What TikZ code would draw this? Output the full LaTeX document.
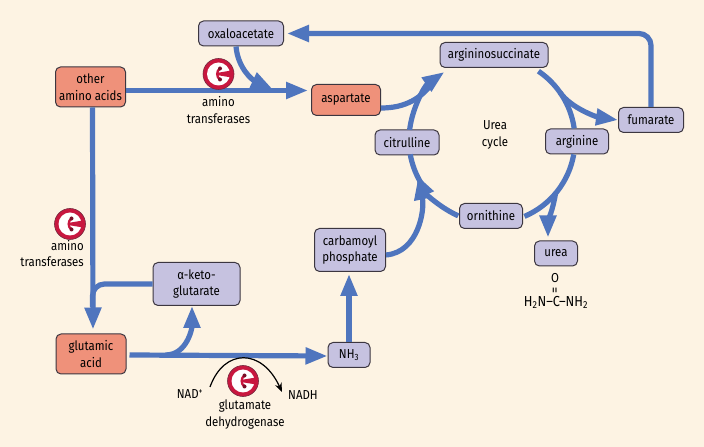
\documentclass[tikz,border=0pt]{standalone}
\usepackage{fontspec}
\setmainfont[FakeStretch=0.88]{Fira Sans}
\usetikzlibrary{arrows.meta,calc}
\definecolor{paper}{HTML}{FDF3E3}
\definecolor{flowblue}{HTML}{4F75BE}
\definecolor{lilac}{HTML}{C6C2E0}
\definecolor{salmon}{HTML}{EF917A}
\definecolor{edge}{HTML}{3C3640}
\definecolor{enzred}{HTML}{C8173F}

\begin{document}
\begin{tikzpicture}[
    x=1pt, y=1pt,
    metab/.style={draw=edge, line width=1pt, rounded corners=5pt, align=center, inner sep=0pt, font=\fontsize{13}{16.5}\selectfont},
    acid/.style={metab, fill=salmon},
    cpd/.style={metab, fill=lilac},
    flowline/.style={line width=5.2pt, draw=flowblue},
    flow/.style={flowline, -{Triangle[length=22pt,width=16pt]}},
    cofactor/.style={draw=black, line width=1.2pt, -{Stealth[length=9pt,width=7pt]}},
    lbl/.style={align=center, inner sep=0pt, font=\fontsize{13}{16.5}\selectfont},
    enzyme/.pic={
        \fill[enzred] (0,0) circle (15.5);
        \draw[edge!60!enzred, line width=0.6pt] (0,0) circle (15.5);
        \fill[white] (0,0) circle (11.5);
        \fill[enzred] (-2,-1) -- (13,-3.5) -- (13,3.5) -- (-2,1) -- cycle;
        \draw[enzred, line width=2.4pt] (1.5,5.5) to[bend right=60] (1.5,-5.5);
        \fill[enzred!60!black] (1.5,5.5) circle (2) (1.5,-5.5) circle (2);
    }
]
    \useasboundingbox (0,0) rectangle (704,447);
    \fill[paper] (0,0) rectangle (704,447);

    % --- Nodes ---
    \node[cpd, minimum width=85pt, minimum height=25pt] (oxalo) at (241,413.5) {oxaloacetate};
    \node[acid, minimum width=70pt, minimum height=40pt] (other) at (90.5,360) {other\\amino acids};
    \node[acid, minimum width=69pt, minimum height=31pt] (aspartate) at (346,347) {aspartate};
    \node[cpd, minimum width=108pt, minimum height=25pt] (argsucc) at (494,392) {argininosuccinate};
    \node[cpd, minimum width=64pt, minimum height=25pt] (citrulline) at (407,304.5) {citrulline};
    \node[cpd, minimum width=63pt, minimum height=25pt] (arginine) at (577,305.5) {arginine};
    \node[cpd, minimum width=65pt, minimum height=25pt] (fumarate) at (651,327) {fumarate};
    \node[cpd, minimum width=63pt, minimum height=25pt] (ornithine) at (491,231) {ornithine};
    \node[cpd, minimum width=43pt, minimum height=25pt] (urea) at (556,193.5) {urea};
    \node[cpd, minimum width=71pt, minimum height=43pt] (carbamoyl) at (350,197) {carbamoyl\\phosphate};
    \node[cpd, minimum width=42pt, minimum height=25pt] (nh) at (349,92) {NH\textsubscript{3}};
    \node[acid, minimum width=70pt, minimum height=40pt] (glutamic) at (91,93) {glutamic\\acid};
    \node[cpd, minimum width=87pt, minimum height=43pt] (keto) at (196.5,163) {α-keto-\\glutarate};

    % --- Urea cycle ---
    \coordinate (cyc) at (492,307);
    \node[lbl] (cyclelbl) at (495,312) {Urea\\cycle};
    \draw[flowline] ($(cyc)+(56:83)$) arc[start angle=56, end angle=8, radius=83];
    \draw[flowline] ($(cyc)+(-10:83)$) arc[start angle=-10, end angle=-67, radius=83];
    \draw[flow] ($(cyc)+(246:83)$) arc[start angle=246, end angle=205, radius=83];
    \draw[flowline] ($(cyc)+(212:83)$) arc[start angle=212, end angle=190, radius=83];
    \draw[flow] ($(cyc)+(173:83)$) arc[start angle=173, end angle=125, radius=83];

    % --- Branches on the cycle ---
    \draw[flowline] ([yshift=-8]aspartate.east) to[out=0, in=235] ($(cyc)+(133:83)$);
    \draw[flow] ($(cyc)+(35:83)$) to[out=-55, in=172, looseness=.8] (fumarate.west);
    \draw[flow, shorten >=3pt] ($(cyc)+(-40:83)$) to[out=-100, in=90] ([xshift=-8]urea.north);
    \draw[flow] ([yshift=-5]carbamoyl.east) to[out=5, in=-78] ($(cyc)+(207:83)$);
    \draw[flow, rounded corners=12pt, shorten >=3pt] (fumarate.north) |- (oxalo.east);

    % --- Left part ---
    \draw[flow, shorten >=3pt] ([yshift=-3.5]other.east) -- ([yshift=9.5]aspartate.west) coordinate (aspin);
    \draw[flow] ([xshift=-5]oxalo.south) to[out=-85, in=155] ($(aspin)+(-38,1)$);
    \draw[flow, shorten >=4pt] ([xshift=2]other.south) -- ([xshift=2]glutamic.north);
    \coordinate (jn) at (92.5,140);
    \draw[flowline, rounded corners=12pt] (keto.west) -| (jn);
    \draw[flow] ([xshift=3,yshift=-1]glutamic.east) -- ([yshift=-1]nh.west) coordinate (nhin);
    \draw[flow] ($(glutamic.east)+(39,-1)$) to[out=0, in=-90] ([xshift=-4.5]keto.south);
    \draw[flow, shorten >=2pt] (nh.north) -- (nh.north |- carbamoyl.south);

    % --- Enzymes and labels ---
    \pic at (218.5,373) {enzyme};
    \node[lbl] (amino1) at (218.5,337) {amino\\transferases};
    \pic at (70,223) {enzyme};
    \node[lbl, align=right, anchor=east] (amino2) at (84,193.5) {amino\\transferases};
    \pic at (243,66) {enzyme};
    \node[lbl] (gdh) at (245,32.5) {glutamate\\dehydrogenase};
    \node[lbl] (nad) at (190,53) {NAD\textsuperscript{+}};
    \node[lbl] (nadh) at (303,52) {NADH};
    \draw[cofactor] ($(nad.center)+(20,7)$) .. controls (224,99) and (262,99) .. ($(nadh.center)+(-21,3)$);

    % --- Urea formula ---
    \node[lbl, font=\fontsize{14.5}{16}\selectfont] (ureaform) at (556,145) {H\textsubscript{2}N–C–NH\textsubscript{2}};
    \node[lbl] (oxy) at (555,169) {O};
    \node[lbl, rotate=90, font=\fontsize{14}{14}\selectfont] (dbl) at (556,157) {=};
\end{tikzpicture}
\end{document}
